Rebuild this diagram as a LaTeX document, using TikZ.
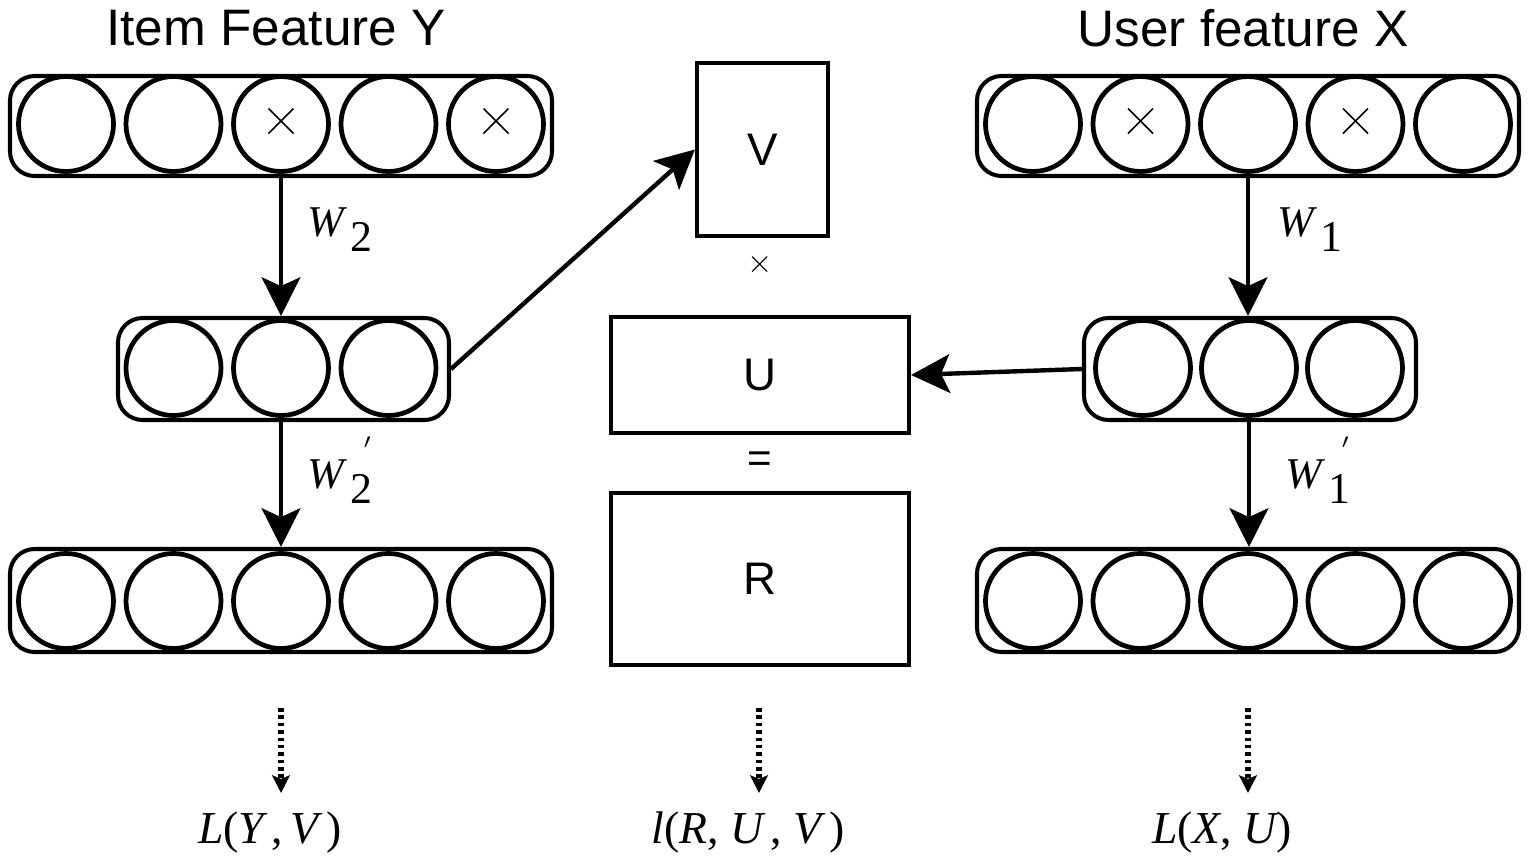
\documentclass[tikz,border=0pt]{standalone}
\usepackage{fontspec}
\setmainfont{Liberation Sans}
\newfontfamily\serifmath{Liberation Serif}
\usetikzlibrary{arrows.meta,positioning,calc}

\begin{document}
\begin{tikzpicture}[
  unit/.style={draw, circle, line width=1.35pt, minimum size=0.95cm, inner sep=0pt},
  bar/.style={draw, rounded corners=7pt, line width=1.15pt, inner sep=0pt},
  matbox/.style={draw, line width=1.2pt, inner sep=0pt, font=\fontsize{13}{13}\selectfont},
  weight/.style={font=\serifmath\fontsize{12.5}{14}\selectfont},
  loss/.style={font=\serifmath\fontsize{13}{15}\selectfont},
  flow/.style={-{Stealth[length=11pt,width=11pt,inset=2.5pt]}, line width=1.25pt},
  dotflow/.style={-{Stealth[length=5pt,width=5pt,inset=1pt]}, line width=1.5pt, dash pattern=on 1pt off 1.1pt},
  cross/.style={line width=0.5pt}
]
\useasboundingbox (0,0) rectangle (15.4,-8.57);

\node[font=\fontsize{14.6}{16}\selectfont] (itemtitle) at (2.76,-0.28) {Item Feature Y};
\node[font=\fontsize{14.6}{16}\selectfont] (usertitle) at (12.43,-0.28) {User feature X};

\node[bar, minimum width=5.42cm, minimum height=1.0cm] (itemin) at (2.81,-1.26) {};
\node[bar, minimum width=3.31cm, minimum height=1.02cm] (itemhid) at (2.835,-3.69) {};
\node[bar, minimum width=5.42cm, minimum height=1.03cm] (itemout) at (2.81,-6.005) {};
\node[bar, minimum width=5.42cm, minimum height=1.0cm] (userin) at (12.48,-1.26) {};
\node[bar, minimum width=3.32cm, minimum height=1.02cm] (userhid) at (12.50,-3.69) {};
\node[bar, minimum width=5.42cm, minimum height=1.03cm] (userout) at (12.48,-6.005) {};

\foreach \i in {1,...,5} {
  \node[unit] (itemin\i) at ({0.66+1.075*(\i-1)},-1.24) {};
  \node[unit] (itemout\i) at ({0.66+1.075*(\i-1)},-6.01) {};
  \node[unit] (userin\i) at ({10.33+1.075*(\i-1)},-1.24) {};
  \node[unit] (userout\i) at ({10.33+1.075*(\i-1)},-6.01) {};
}
\foreach \i in {1,2,3} {
  \node[unit] (itemhid\i) at ({1.735+1.075*(\i-1)},-3.68) {};
  \node[unit] (userhid\i) at ({11.43+1.06*(\i-1)},-3.68) {};
}
\foreach \c in {itemin3,itemin5,userin2,userin4} {
  \draw[cross] ($(\c)+(-0.125,0.155)$) -- ($(\c)+(0.125,-0.095)$);
  \draw[cross] ($(\c)+(-0.125,-0.095)$) -- ($(\c)+(0.125,0.155)$);
}

\node[matbox, minimum width=1.31cm, minimum height=1.73cm] (V) at (7.625,-1.495) {V};
\node[matbox, minimum width=2.98cm, minimum height=1.16cm] (U) at (7.60,-3.75) {U};
\node[matbox, minimum width=2.98cm, minimum height=1.72cm] (R) at (7.60,-5.79) {R};
\node[font=\small] (times) at (7.60,-2.65) {$\times$};
\node[font=\large] (equals) at (7.60,-4.62) {=};

\draw[flow] (itemin3.south |- itemin.south) -- (itemin3.south |- itemhid.north);
\draw[flow] (itemhid2.south |- itemhid.south) -- (itemhid2.south |- itemout.north);
\draw[flow] (userin3.south |- userin.south) -- (userin3.south |- userhid.north);
\draw[flow] (userhid2.south |- userhid.south) -- (userhid2.south |- userout.north);
\draw[flow] (itemhid.east) -- (V.west);
\draw[flow] (userhid.west) -- (U.east);

\node[weight] (w2) at (3.40,-2.30) {{\itshape W}\,\raisebox{-0.75ex}{2}};
\node[weight] (w2p) at (3.40,-4.70) {{\itshape W}\,\raisebox{-0.75ex}{2}\llap{\raisebox{1.5ex}{\footnotesize$'$}}};
\node[weight] (w1) at (13.10,-2.30) {{\itshape W}\,\raisebox{-0.75ex}{1}};
\node[weight] (w1p) at (13.18,-4.70) {{\itshape W}\,\raisebox{-0.75ex}{1}\llap{\raisebox{1.5ex}{\footnotesize$'$}}};

\node[loss] (lossY) at (2.70,-8.33) {{\itshape L}({\itshape Y}\,,\,{\itshape V}\,)};
\node[loss] (lossR) at (7.48,-8.33) {{\itshape l}({\itshape R}, {\itshape U}\,, {\itshape V}\,)};
\node[loss] (lossX) at (12.22,-8.33) {{\itshape L}({\itshape X}, {\itshape U})};

\coordinate (fromY) at (2.81,-7.08);
\coordinate (fromR) at (7.59,-7.08);
\coordinate (fromX) at (12.48,-7.08);
\draw[dotflow] (fromY) -- (fromY |- 0,-7.93);
\draw[dotflow] (fromR) -- (fromR |- 0,-7.93);
\draw[dotflow] (fromX) -- (fromX |- 0,-7.93);
\end{tikzpicture}
\end{document}
